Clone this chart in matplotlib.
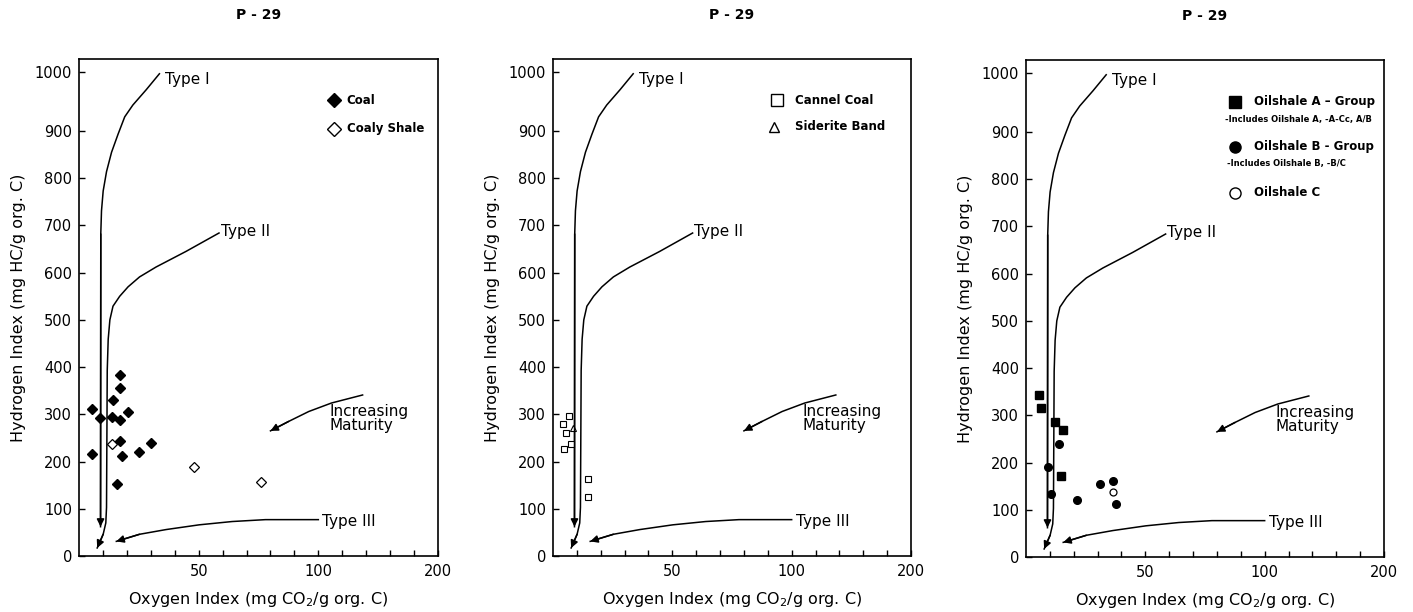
import numpy as np
import matplotlib
matplotlib.use("Agg")
import matplotlib.pyplot as plt

plt.rcParams["font.family"] = ["DejaVu Sans"]

# --- sample data (oxygen index, hydrogen index) ---
coal_oi = [5.5, 8.7, 5.5, 14.0, 13.7, 17.3, 17.3, 20.3, 17.3, 17.3, 17.8, 16.0, 24.9, 29.9]
coal_hi = [312, 293, 217, 331, 295, 384, 355, 304, 289, 244, 212, 153, 221, 240]
coaly_oi = [13.8, 48.1, 76.1]
coaly_hi = [237, 188, 156]

cannel_oi = [4.5, 4.2, 5.6, 6.7, 7.4, 14.6, 14.6]
cannel_hi = [227, 279, 260, 296, 238, 163, 126]
siderite_oi = [8.5]
siderite_hi = [272]

osA_oi = [5.4, 6.3, 12.3, 15.3, 14.5]
osA_hi = [343, 316, 285, 269, 172]
osB_oi = [13.7, 9.3, 10.3, 21.2, 31.0, 36.4, 37.5]
osB_hi = [239, 190, 134, 120, 155, 162, 112]
osC_oi = [36.4]
osC_hi = [137]

# --- kerogen type maturation paths ---
type1_oi = [33.6, 28.1, 22.5, 19.1, 16.3, 13.6, 11.5, 10.1, 9.4, 9.1, 9.0]
type1_hi = [997, 970, 944, 924, 893, 855, 814, 773, 731, 682, 62]
type2_oi = [58.5, 44.7, 32.2, 25.3, 20.5, 17.0, 14.2, 12.9, 12.2, 11.8, 11.5, 11.2, 10.1, 7.6]
type2_hi = [684, 645, 612, 591, 570, 550, 529, 500, 459, 393, 103, 70, 46, 17]
type3_oi = [100, 77.9, 64.0, 50.2, 36.4, 25.3, 15.6]
type3_hi = [77, 77, 73, 66, 56, 46, 31]
matur_oi = [137, 111, 96, 87.6, 80]
matur_hi = [341, 324, 306, 285, 265]

x_major = [50, 100, 200]
x_ticks = [10, 20, 30, 40, 50, 60, 70, 80, 90, 100, 120, 140, 160, 180, 200]
y_ticks = list(range(0, 1001, 100))


# x axis: linear to 100, half scale 100-200; y axis: stretched above 900
def xf(x):
    x = np.asarray(x, dtype=float)
    return np.where(x <= 100, x, 100 + (x - 100) / 2)


def xi(t):
    t = np.asarray(t, dtype=float)
    return np.where(t <= 100, t, 100 + (t - 100) * 2)


def yf(y):
    y = np.asarray(y, dtype=float)
    return np.where(y <= 900, y, 900 + (y - 900) * 1.25)


def yi(t):
    t = np.asarray(t, dtype=float)
    return np.where(t <= 900, t, 900 + (t - 900) / 1.25)


fig = plt.figure(figsize=(14.13, 6.12), dpi=100)
W, H = 1413, 612
boxes = [(79, 438, 59, 556), (553, 911, 59, 556), (1026, 1384, 60, 557)]
axes = []
for l, r, t, b in boxes:
    ax = fig.add_axes([l / W, (H - b) / H, (r - l) / W, (b - t) / H])
    axes.append(ax)


def frame(ax):
    ax.set_xscale("function", functions=(xf, xi))
    ax.set_yscale("function", functions=(yf, yi))
    ax.set_xlim(0, 200)
    ax.set_ylim(0, 1022)
    ax.set_xticks(x_ticks, [str(v) if v in x_major else "" for v in x_ticks])
    ax.set_yticks(y_ticks)
    ax.minorticks_off()
    ax.tick_params(direction="in", length=4, width=1, labelsize=10.5)
    ax.tick_params(axis="x", pad=6)
    ax.tick_params(axis="y", pad=5)
    for s in ax.spines.values():
        s.set_linewidth(1.2)
    ax.set_xlabel("Oxygen Index (mg CO$_2$/g org. C)", fontsize=11.5)
    ax.set_ylabel("Hydrogen Index (mg HC/g org. C)", fontsize=11.5)
    ax.xaxis.set_label_coords(0.5, -0.068)
    ax.yaxis.set_label_coords(-0.148, 0.5)
    ax.text(0.5, 1 + 44 / 497, "P - 29", transform=ax.transAxes, ha="center",
            va="center", fontsize=10, fontweight="bold")

    for xs, ys in [(type1_oi, type1_hi), (type2_oi, type2_hi),
                   (type3_oi, type3_hi), (matur_oi, matur_hi)]:
        ax.plot(xs, ys, color="black", lw=1.1)
        ax.annotate("", xy=(xs[-1], ys[-1]), xytext=(xs[-2], ys[-2]),
                    arrowprops=dict(arrowstyle="-|>", color="black", lw=1.1,
                                    mutation_scale=11, shrinkA=0, shrinkB=0))
    kw = dict(fontsize=11, va="center", ha="left")
    ax.text(36, 987, "Type I", **kw)
    ax.text(59.2, 688, "Type II", **kw)
    ax.text(103.4, 74, "Type III", **kw)
    ax.text(109.2, 292, "Increasing\nMaturity", linespacing=0.9, **kw)


for ax in axes:
    frame(ax)

lg = dict(transform=None, va="center", fontsize=8.5, fontweight="bold")

# panel 1
ax = axes[0]
lg["transform"] = ax.transAxes
ax.plot(coal_oi, coal_hi, "D", color="black", ms=5, ls="none")
ax.plot(coaly_oi, coaly_hi, "D", mfc="white", mec="black", mew=0.9, ms=5, ls="none")
ax.plot([0.71], [0.917], "D", color="black", ms=7, transform=ax.transAxes)
ax.plot([0.71], [0.860], "D", mfc="white", mec="black", mew=1, ms=7, transform=ax.transAxes)
ax.text(0.746, 0.917, "Coal", **lg)
ax.text(0.746, 0.860, "Coaly Shale", **lg)

# panel 2
ax = axes[1]
lg["transform"] = ax.transAxes
ax.plot(cannel_oi, cannel_hi, "s", mfc="white", mec="black", mew=0.8, ms=5, ls="none")
ax.plot(siderite_oi, siderite_hi, "^", mfc="white", mec="black", mew=0.8, ms=4, ls="none")
ax.plot([0.625], [0.917], "s", mfc="white", mec="black", mew=1, ms=8, transform=ax.transAxes)
ax.plot([0.617], [0.864], "^", mfc="white", mec="black", mew=1, ms=7, transform=ax.transAxes)
ax.text(0.676, 0.917, "Cannel Coal", **lg)
ax.text(0.676, 0.864, "Siderite Band", **lg)

# panel 3
ax = axes[2]
lg["transform"] = ax.transAxes
ax.plot(osA_oi, osA_hi, "s", color="black", ms=5.5, ls="none")
ax.plot(osB_oi, osB_hi, "o", color="black", ms=5.5, ls="none")
ax.plot(osC_oi, osC_hi, "o", mfc="white", mec="black", mew=0.9, ms=5, ls="none")
ax.plot([0.584], [0.916], "s", color="black", ms=8, transform=ax.transAxes)
ax.plot([0.584], [0.825], "o", color="black", ms=8, transform=ax.transAxes)
ax.plot([0.584], [0.733], "o", mfc="white", mec="black", mew=1, ms=8, transform=ax.transAxes)
ax.text(0.637, 0.916, "Oilshale A \u2013 Group", **lg)
ax.text(0.637, 0.825, "Oilshale B - Group", **lg)
ax.text(0.637, 0.733, "Oilshale C", **lg)
note = dict(transform=ax.transAxes, va="center", fontsize=6, fontweight="bold")
ax.text(0.556, 0.880, "-Includes Oilshale A, -A-Cc, A/B", **note)
ax.text(0.561, 0.792, "-Includes Oilshale B, -B/C", **note)

fig.savefig("out.png", dpi=100)
